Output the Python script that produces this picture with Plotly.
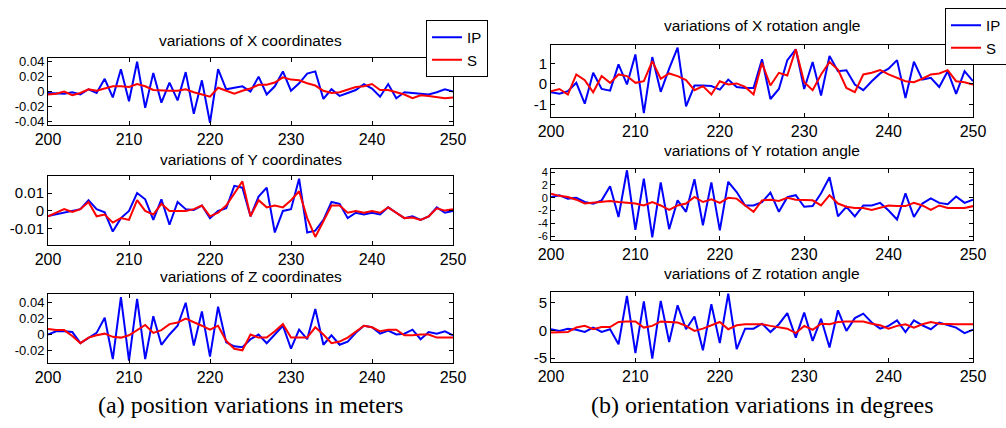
import plotly.graph_objects as go

frames = list(range(200, 251))

x_ip = [-0.002, -0.003, -0.003, -0.001, -0.004, 0.003, -0.002, 0.017, -0.008, 0.030,
        -0.013, 0.040, -0.022, 0.025, -0.015, 0.012, -0.012, 0.026, -0.030, 0.015,
        -0.042, 0.030, 0.003, 0.005, 0.007, 0.000, 0.020, -0.004, 0.007, 0.027,
        0.001, 0.011, 0.024, 0.027, -0.010, 0.003, -0.006, -0.002, 0.002, 0.010,
        0.004, -0.007, 0.010, -0.009, -0.001, -0.002, -0.003, -0.004, -0.001, 0.003, 0.000]
x_s = [-0.004, -0.003, 0.000, -0.005, -0.002, 0.003, 0.001, 0.004, 0.007, 0.007,
       0.006, 0.010, 0.007, 0.002, 0.001, 0.001, 0.001, 0.003, -0.001, -0.004,
       -0.007, 0.005, 0.001, -0.003, 0.001, 0.004, 0.009, 0.009, 0.012, 0.019,
       0.016, 0.015, 0.011, 0.008, 0.001, -0.002, -0.001, 0.003, 0.006, 0.007,
       0.010, 0.002, 0.002, -0.001, -0.004, -0.009, -0.005, -0.006, -0.007, -0.009, -0.008]

y_ip = [-0.0028, -0.0018, -0.0008, -0.0002, 0.001, 0.006, 0.001, -0.0008, -0.0115, -0.004,
        0.000, 0.010, 0.0065, -0.005, 0.0065, -0.0077, 0.005, 0.001, 0.0005, 0.003,
        -0.004, 0.000, 0.0015, 0.014, 0.013, -0.003, 0.008, 0.013, -0.012, 0.000,
        0.001, 0.018, -0.012, -0.011, -0.005, 0.005, 0.004, -0.004, -0.001, -0.002,
        -0.001, -0.002, 0.002, -0.001, -0.004, -0.003, -0.005, -0.003, 0.002, -0.001, 0.000]
y_s = [-0.003, -0.001, 0.001, -0.0005, 0.001, 0.005, -0.003, -0.002, -0.0065, -0.004,
       -0.005, 0.006, 0.000, -0.002, 0.004, 0.000, 0.000, 0.000, 0.001, 0.003,
       -0.003, -0.001, 0.003, 0.010, 0.0165, -0.003, 0.006, 0.002, 0.003, 0.002,
       0.006, 0.011, -0.004, -0.0145, -0.006, 0.003, 0.003, -0.001, 0.000, -0.001,
       0.000, -0.001, 0.002, -0.001, -0.004, -0.0037, -0.005, -0.003, 0.0015, 0.0002, 0.001]

z_ip = [0.000, 0.004, 0.004, 0.003, -0.011, -0.004, 0.002, 0.021, -0.031, 0.047,
        -0.033, 0.045, -0.031, 0.023, -0.013, 0.000, 0.011, 0.040, -0.014, 0.029,
        -0.028, 0.035, -0.010, -0.015, -0.016, -0.006, 0.000, -0.011, 0.000, 0.011,
        -0.018, 0.006, -0.006, 0.032, -0.013, -0.001, -0.013, -0.009, 0.002, 0.011,
        0.009, 0.001, 0.005, 0.000, 0.001, 0.006, -0.006, 0.003, 0.001, 0.004, -0.001]
z_s = [0.007, 0.0055, 0.0055, -0.002, -0.011, -0.004, -0.001, 0.001, -0.003, -0.004,
       -0.001, 0.006, 0.012, 0.002, 0.0055, 0.013, 0.015, 0.020, 0.016, 0.011,
       0.006, 0.011, -0.008, -0.018, -0.020, 0.000, -0.004, -0.004, 0.004, 0.013,
       -0.004, -0.004, -0.004, 0.009, 0.000, -0.011, -0.009, -0.004, 0.003, 0.011,
       0.009, 0.004, 0.006, 0.006, -0.001, -0.001, 0.000, 0.000, -0.004, -0.004, -0.004]

rx_ip = [-0.41, -0.48, -0.36, 0.05, -0.97, 0.54, -0.25, -0.33, 0.95, -0.03,
         1.44, -1.43, 1.31, -0.39, 0.74, 1.77, -1.10, -0.08, -0.08, -0.11,
         -0.28, 0.21, -0.15, -0.20, -0.20, 1.20, -0.74, -0.25, 1.16, 1.69,
         -0.25, 1.07, -0.57, 1.36, 0.62, 0.66, -0.03, -0.31, 0.13, 0.51,
         0.74, 1.16, -0.69, 1.08, 0.21, 0.30, -0.15, 0.62, -0.49, 0.62, 0.13]
rx_s = [-0.36, -0.25, -0.52, 0.46, 0.18, -0.41, 0.38, 0.05, 0.46, 0.38,
        0.05, 0.13, 1.11, 0.25, 0.51, 0.38, 0.18, -0.31, -0.11, -0.52,
        0.13, -0.03, 0.02, -0.15, -0.52, 1.03, -0.08, 0.54, 0.41, 1.69,
        0.08, -0.31, 0.46, 1.07, 0.70, -0.20, -0.41, 0.46, 0.54, 0.67,
        0.46, 0.30, 0.13, 0.08, 0.25, 0.46, 0.51, 0.67, 0.13, 0.08, -0.03]

ry_ip = [0.13, 0.40, -0.13, 0.00, -0.66, -0.92, -0.40, 1.80, -3.00, 4.30,
         -5.00, 3.00, -6.20, 2.40, -4.90, -0.40, -2.20, 2.90, -4.30, 2.40,
         -5.10, 2.50, 0.90, -1.20, -1.20, -0.70, 0.80, -2.20, 0.10, 0.40,
         -1.40, -1.30, 0.70, 3.20, -2.90, -1.40, -2.90, -1.20, -1.20, -0.80,
         -2.00, -3.40, 0.70, -3.00, -0.90, -0.10, -0.80, -1.00, 0.20, -0.80, -0.30]
ry_s = [0.65, 0.30, 0.13, -0.30, -0.90, -0.80, -0.66, -0.50, -0.66, -0.80,
        -0.90, -1.20, -0.66, -1.20, -1.90, -1.20, -0.90, 0.13, -0.66, -0.25,
        -0.80, 0.00, -0.13, -1.20, -2.20, -0.40, -0.30, -0.50, 0.00, -0.30,
        -0.40, -0.40, -1.20, 0.40, -0.90, -1.40, -1.60, -1.60, -1.90, -1.60,
        -1.20, -1.30, -1.30, -0.80, -1.20, -1.90, -1.20, -1.60, -1.60, -1.60, -1.30]

rz_ip = [0.2, -0.1, 0.3, 0.1, -0.3, 0.5, -0.3, 0.2, -2.5, 6.2,
         -4.1, 5.2, -5.1, 5.3, -2.1, 4.5, 0.2, 2.5, -3.6, 4.7,
         -2.3, 6.6, -3.4, 0.3, 0.3, 1.2, -0.3, 1.1, 3.1, -1.3,
         3.2, -1.9, 2.1, -3.1, 3.6, -0.1, 2.2, 3.0, 1.4, 0.3,
         0.8, 1.8, -0.3, 1.8, 0.9, 0.2, 1.4, 0.9, 0.5, -0.5, 0.1]
rz_s = [-0.4, -0.3, -0.3, 0.5, 0.8, 0.2, 0.6, 0.6, 1.5, 1.6,
        1.6, 0.5, 0.8, 1.6, 1.5, 1.4, 0.8, -0.1, 0.3, 0.9,
        1.5, 0.2, 0.9, 1.1, 1.1, 1.1, 0.8, 0.5, 0.3, -0.5,
        0.8, 0.1, 1.2, 1.1, 1.5, 1.6, 1.6, 1.6, 1.2, 0.9,
        0.3, 0.8, 1.1, 0.5, 1.1, 1.5, 1.2, 1.1, 1.1, 1.1, 1.1]

titles = ["variations of X coordinates", "variations of Y coordinates", "variations of Z coordinates",
          "variations of X rotation angle", "variations of Y rotation angle", "variations of Z rotation angle"]
x_ticks = [200, 210, 220, 230, 240, 250]
y_tick_sets = [
    [-0.04, -0.02, 0, 0.02, 0.04],
    [-0.01, 0, 0.01],
    [-0.02, 0, 0.02, 0.04],
    [-1, 0, 1],
    [-6, -4, -2, 0, 2, 4],
    [-5, 0, 5],
]
y_tick_texts = [
    ["-0.04", "-0.02", "0", "0.02", "0.04"],
    ["-0.01", "0", "0.01"],
    ["-0.02", "0", "0.02", "0.04"],
    ["-1", "0", "1"],
    ["-6", "-4", "-2", "0", "2", "4"],
    ["-5", "0", "5"],
]
y_ranges = [[-0.045, 0.045], [-0.019, 0.0195], [-0.036, 0.051],
            [-1.62, 1.9], [-6.6, 4.5], [-5.7, 6.9]]
captions = ["(a) position variations in meters", "(b) orientation variations in degrees"]
series_names = ["IP", "S"]

W, H = 1006, 428
# pixel boxes: (left, right, top, bottom)
boxes = [(48, 453, 58, 125), (48, 453, 176, 245), (48, 453, 294, 363),
         (551, 973, 45, 117), (551, 973, 169, 240), (551, 973, 292, 362)]
title_y = [40, 159, 276, 26, 150, 273]
ytick_sizes = [13, 15, 13, 15, 11, 15]

pairs = [(x_ip, x_s), (y_ip, y_s), (z_ip, z_s), (rx_ip, rx_s), (ry_ip, ry_s), (rz_ip, rz_s)]
BLUE, RED = "#0000ff", "#ff0000"
FONT = "Liberation Sans, Arial, Helvetica, sans-serif"

fig = go.Figure()
layout = dict(width=W, height=H, margin=dict(l=0, r=0, t=0, b=0, autoexpand=False),
              paper_bgcolor="white", plot_bgcolor="white",
              font=dict(family=FONT, size=15, color="black"))
annotations = []
for i, (ip, s) in enumerate(pairs):
    k = i + 1
    xa = "x" if k == 1 else f"x{k}"
    ya = "y" if k == 1 else f"y{k}"
    leg = "legend" if i < 3 else "legend2"
    show = i in (0, 3)
    fig.add_trace(go.Scatter(x=frames, y=ip, mode="lines", name=series_names[0],
                             line=dict(color=BLUE, width=2), xaxis=xa, yaxis=ya,
                             showlegend=show, legend=leg, legendgroup=f"ip{leg}"))
    fig.add_trace(go.Scatter(x=frames, y=s, mode="lines", name=series_names[1],
                             line=dict(color=RED, width=2), xaxis=xa, yaxis=ya,
                             showlegend=show, legend=leg, legendgroup=f"s{leg}"))
    l, r, t, b = boxes[i]
    axis_common = dict(showline=True, linecolor="black", linewidth=1, mirror="ticks",
                       ticks="inside", ticklen=4, tickcolor="black", showgrid=False,
                       zeroline=False)
    layout["xaxis" if k == 1 else f"xaxis{k}"] = dict(
        domain=[l / W, r / W], range=[200, 250], tickvals=x_ticks,
        anchor=ya, tickfont=dict(size=16), **axis_common)
    layout["yaxis" if k == 1 else f"yaxis{k}"] = dict(
        domain=[1 - b / H, 1 - t / H], range=y_ranges[i], tickvals=y_tick_sets[i],
        ticktext=y_tick_texts[i], anchor=xa, tickfont=dict(size=ytick_sizes[i]),
        **axis_common)
    annotations.append(dict(text=titles[i], x=(l + r) / 2 / W, y=1 - title_y[i] / H,
                            xref="paper", yref="paper", showarrow=False,
                            xanchor="center", yanchor="middle", font=dict(size=15.5)))

for cap, cx in zip(captions, (250, 762)):
    annotations.append(dict(text=cap, x=cx / W, y=1 - 405 / H, xref="paper", yref="paper",
                            showarrow=False, xanchor="center", yanchor="middle",
                            font=dict(family="Liberation Serif, Times New Roman, serif", size=24)))

legend_common = dict(bgcolor="white", bordercolor="black", borderwidth=1,
                     font=dict(size=15), xanchor="left", yanchor="top",
                     tracegroupgap=0, traceorder="grouped")
layout["legend"] = dict(x=426 / W, y=1 - 20 / H, **legend_common)
layout["legend2"] = dict(x=945 / W, y=1 - 8 / H, **legend_common)
layout["annotations"] = annotations
fig.update_layout(**layout)
fig.write_html("out.html", config={"displayModeBar": False},
               post_script="document.body.style.margin='0';")
